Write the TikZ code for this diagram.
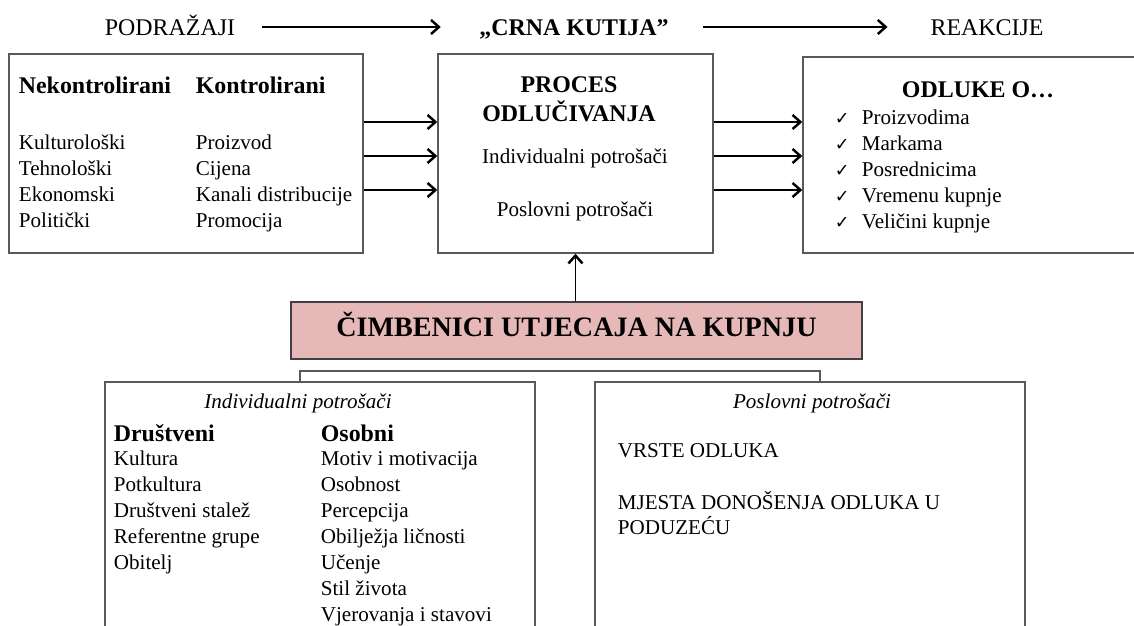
\documentclass[tikz,border=0pt]{standalone}
\usepackage{fontspec}
\setmainfont{Liberation Serif}
\newfontfamily\checkfont{DejaVu Sans}
\usetikzlibrary{%
  arrows.meta,%
  fit,% wg. boxes from corners
  positioning%
}
\definecolor{boxgray}{HTML}{595959}
\definecolor{cimbpink}{HTML}{E6B9B8}

\begin{document}
\begin{tikzpicture}[
  x=0.02cm, y=-0.02cm,
  font=\fontsize{12}{14}\selectfont,
  >={Straight Barb[length=4.5pt,width=8pt,line width=1.4pt]},
  line width=1pt,
  box/.style={rectangle, draw=boxgray, line width=0.8pt, inner sep=0pt},
  cimbbox/.style={box, fill=cimbpink, draw=black!75},
  arr/.style={->, black, line width=1.1pt},
  head/.style={font=\fontsize{13.6}{16}\selectfont, inner sep=0pt, anchor=base},
  title/.style={font=\fontsize{13.6}{16}\selectfont\bfseries, inner sep=0pt, anchor=base},
  item/.style={inner sep=0pt, anchor=base west},
  ital/.style={inner sep=0pt, anchor=base, font=\fontsize{12}{14}\selectfont\itshape}
]

\clip (0,0) rectangle (1134,626);

% top line
\node[head] (podrazaji) at (170,35) {PODRAŽAJI};
\node[title] (crna) at (574,35) {„CRNA KUTIJA”};
\node[head] (reakcije) at (987,35) {REAKCIJE};
\draw[arr, shorten <=15pt, shorten >=21.5pt] (podrazaji.east |- 0,27) -- (crna.west |- 0,27);
\draw[arr, shorten <=19pt, shorten >=24pt] (crna.east |- 0,27) -- (reakcije.west |- 0,27);

% boxes
\node[box, fit={(9,54) (363,253)}] (stimuli) {};
\node[box, fit={(438,54) (713,253)}] (process) {};
\node[box, fit={(803,57) (1160,253)}] (decisions) {};
\node[cimbbox, fit={(291,302) (862,359)}] (cimbenici) {};
\node[box, fit={(105,382) (535,660)}] (individual) {};
\node[box, fit={(595,382) (1025,660)}] (business) {};

% stimuli
\node[title, anchor=base west] (nekontrolirani) at (18,93) {Nekontrolirani};
\node[title, anchor=base west] (kontrolirani) at (195,93) {Kontrolirani};
\foreach \t [count=\i] in {Kulturološki, Tehnološki, Ekonomski, Politički}
  \node[item] (nk\i) at (18,123+26*\i) {\t};
\foreach \t [count=\i] in {Proizvod, Cijena, Kanali distribucije, Promocija}
  \node[item] (k\i) at (195,123+26*\i) {\t};

\foreach \y in {122,156,190} {
  \draw[arr] (stimuli.east |- 0,\y) -- (process.west |- 0,\y);
  \draw[arr] (process.east |- 0,\y) -- (decisions.west |- 0,\y);
}

% process
\node[title] (proces) at (569,92) {PROCES};
\node[title] (odlucivanja) at (569,121) {ODLUČIVANJA};
\node[item, anchor=base] (pind) at (575,163) {Individualni potrošači};
\node[item, anchor=base] (pposl) at (575,216) {Poslovni potrošači};

% decisions
\node[title] (odluke) at (978,97) {ODLUKE O…};
\foreach \t [count=\i] in {Proizvodima, Markama, Posrednicima, Vremenu kupnje, Veličini kupnje} {
  \node[item] (ch\i) at (834,98+26*\i) {\checkfont\fontsize{10}{11}\selectfont ✓};
  \node[item] (o\i) at (861,98+26*\i) {\t};
}

% cimbenici
\node[font=\fontsize{16}{18}\selectfont\bfseries, inner sep=0pt, text height=0.66em, text depth=0pt] (cimbtext) at (cimbenici) {ČIMBENICI UTJECAJA NA KUPNJU};
\draw[arr] (cimbenici.north -| process.south) -- (process.south);

\coordinate (brl) at (300,371);
\coordinate (brr) at (820,371);
\draw[boxgray, line width=0.8pt] (brl |- individual.north) -- (brl) -- (brr) -- (brr |- business.north);

% individual
\node[ital] (indhead) at (298,408) {Individualni potrošači};
\node[title, anchor=base west] (drustveni) at (113,441) {Društveni};
\node[title, anchor=base west] (osobni) at (320,441) {Osobni};
\foreach \t [count=\i] in {Kultura, Potkultura, Društveni stalež, Referentne grupe, Obitelj}
  \node[item] (d\i) at (113,439+26*\i) {\t};
\foreach \t [count=\i] in {Motiv i motivacija, Osobnost, Percepcija, Obilježja ličnosti, Učenje, Stil života, Vjerovanja i stavovi}
  \node[item] (os\i) at (320,439+26*\i) {\t};

% business
\node[ital] (poslhead) at (812,408) {Poslovni potrošači};
\node[item] (vrste) at (617,457) {VRSTE ODLUKA};
\node[item] (mjesta) at (617,509) {MJESTA DONOŠENJA ODLUKA U};
\node[item] (poduzecu) at (617,534) {PODUZEĆU};

\end{tikzpicture}
\end{document}
